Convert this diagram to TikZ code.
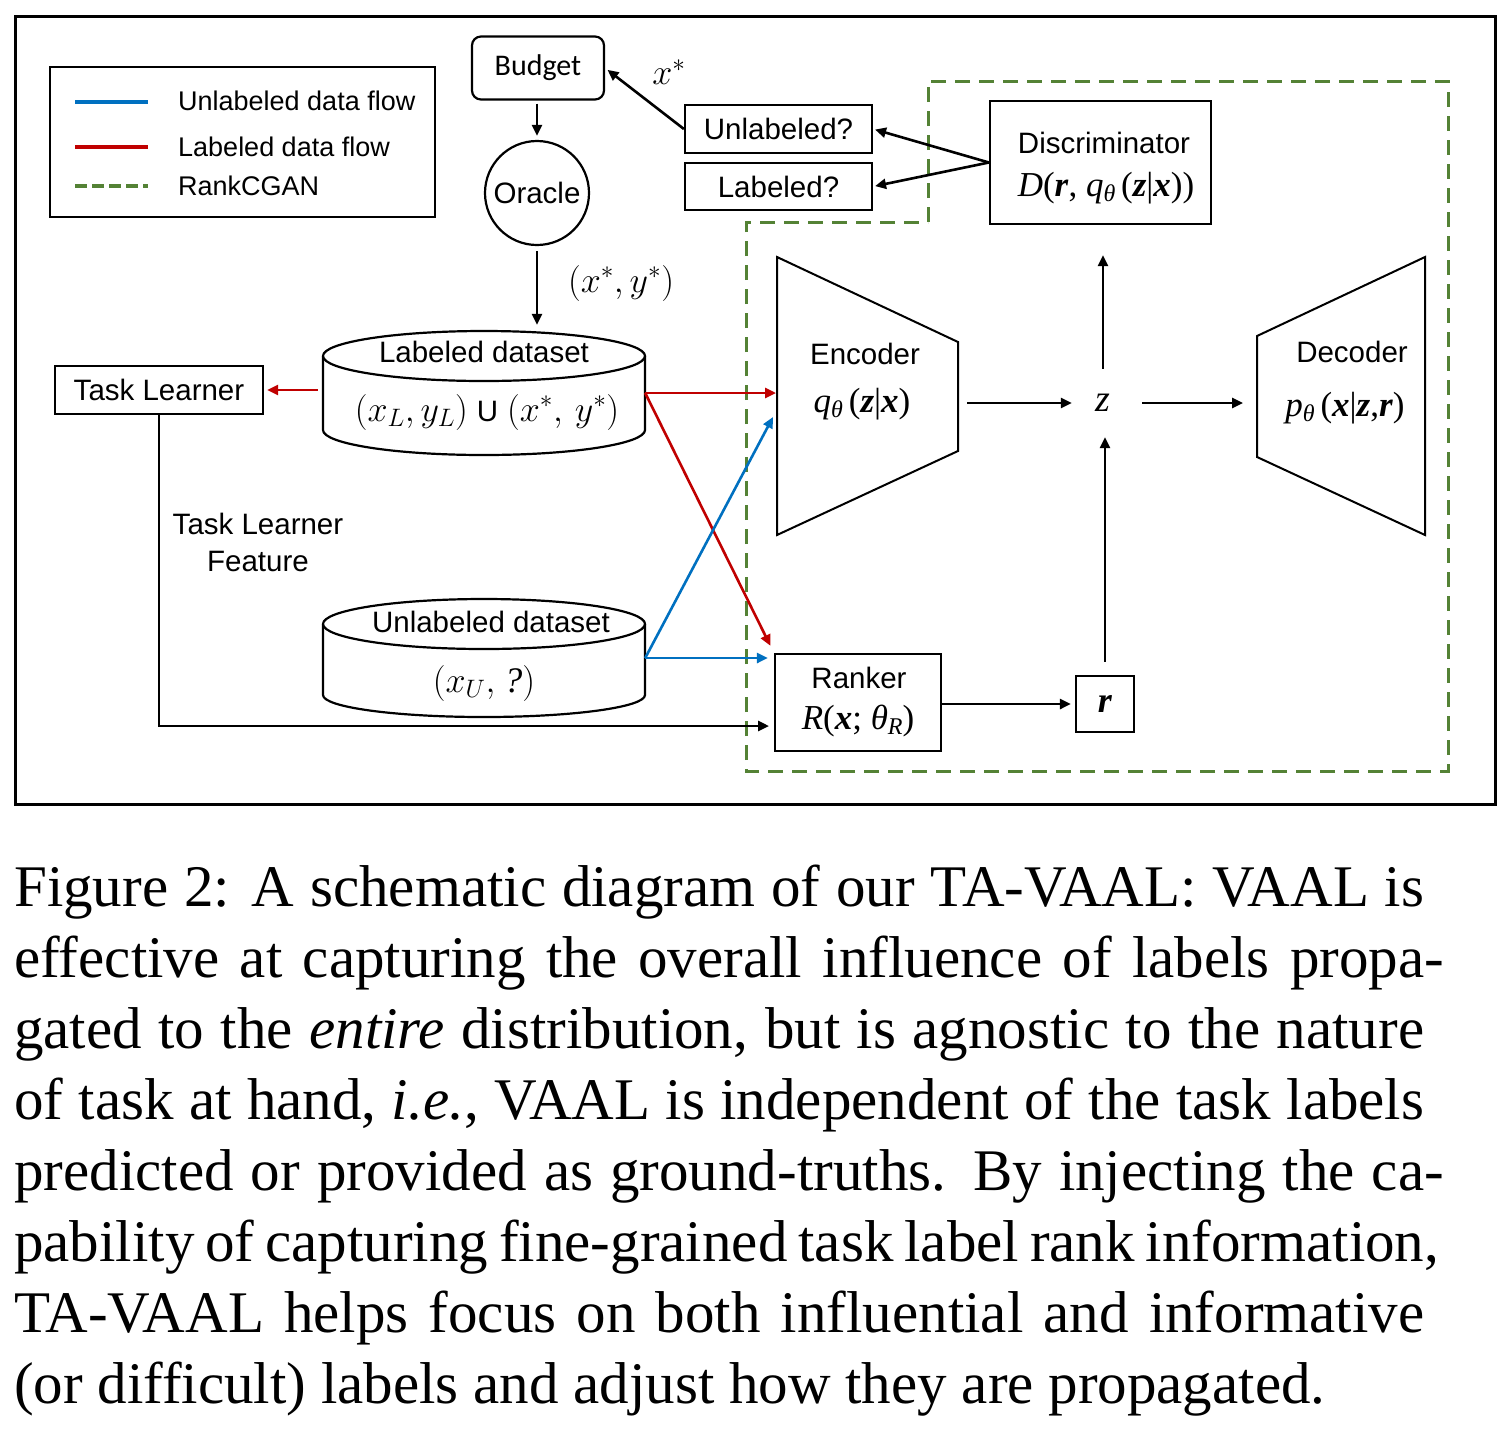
\RequirePackage{fix-cm}
\documentclass[tikz,border=0pt]{standalone}
\usepackage{fontspec}
\setmainfont{Liberation Serif}
\newfontfamily\arialf{Liberation Sans}
\newfontfamily\calibf{Carlito}
\usetikzlibrary{arrows.meta}
\definecolor{flowblue}{RGB}{0,112,192}
\definecolor{flowred}{RGB}{192,0,0}
\definecolor{gangreen}{RGB}{84,130,53}
\newcommand\bi[1]{\textbf{\textit{#1}}}
\newcommand\lsub[1]{\raisebox{-0.32ex}{\fontsize{24}{24}\selectfont\textit{#1}}}
\begin{document}
\begin{tikzpicture}[x=1pt,y=-1pt,
  sans/.style={font=\arialf\fontsize{29.5}{37}\selectfont},
  legtext/.style={font=\arialf\fontsize{27}{32}\selectfont, inner sep=0pt, anchor=west},
  frm/.style={font=\rmfamily\fontsize{35}{40}\selectfont, inner sep=0pt},
  mth/.style={font=\fontsize{36}{40}\selectfont, inner sep=0pt},
  boxn/.style={draw, line width=2.2pt, inner sep=0pt},
  txt/.style={sans, inner sep=0pt},
  arr/.style={line width=2.6pt, -{Triangle[length=11pt,width=10pt]}},
  cyl/.style={line width=2.2pt},
  gdash/.style={draw=gangreen, line width=3pt, dash pattern=on 15pt off 9pt},
]
\useasboundingbox (0,0) rectangle (1509,1441);
\draw[line width=3pt] (15,16) rectangle (1495,804);

% legend
\node[draw, line width=2pt, minimum width=385pt, minimum height=150pt, inner sep=0pt] (legend) at (242.5,142) {};
\draw[flowblue, line width=3.5pt] (75,102) -- (148,102);
\draw[flowred, line width=3.5pt] (75,147) -- (148,147);
\draw[gangreen, line width=3.5pt, dash pattern=on 12pt off 5pt] (75,186) -- (148,186);
\node[legtext] (leg1) at (178,101) {Unlabeled data flow};
\node[legtext] (leg2) at (178,147) {Labeled data flow};
\node[legtext] (leg3) at (178,186) {RankCGAN};

% RankCGAN region
\draw[gdash] (928,222) -- (928,81) -- (1448,81) -- (1448,771) -- (746,771) -- (746,222) -- cycle;

% budget, oracle
\node[boxn, rounded corners=9pt, minimum width=132pt, minimum height=63pt, sans] (budget) at (538,68) {\calibf\fontsize{30}{36}\selectfont Budget};
\node[draw, circle, line width=2.2pt, minimum size=104pt, inner sep=0pt, sans] (oracle) at (537,193) {Oracle};
\node[mth] (xs) at (669,72) {$x^*$};
\node[mth] (xys) at (621,283) {$(x^*, y^*)$};

% discriminator outputs
\node[boxn, minimum width=187pt, minimum height=48pt, sans] (unl) at (778.5,129) {Unlabeled?};
\node[boxn, minimum width=187pt, minimum height=47pt, sans] (lab) at (778.5,186.5) {Labeled?};
\node[boxn, minimum width=221pt, minimum height=123pt] (disc) at (1100.5,162.5) {};
\node[txt] (disct) at (1104,143) {Discriminator};
\node[frm] (discf) at (1106,188) {\textit{D}(\bi{r}, \textit{q}\lsub{θ}\,(\bi{z}|\bi{x}))};

% task learner
\node[boxn, minimum width=208pt, minimum height=48pt, sans] (tl) at (159,390) {Task Learner};
\node[txt, align=center] (tlf) at (258,542) {Task Learner\\Feature};

% datasets
\node[minimum width=322pt, minimum height=124pt, inner sep=0pt] (ld) at (484,393) {};
\draw[cyl] (323,356) -- (323,430) arc[start angle=180, end angle=360, x radius=161pt, y radius=25pt] -- (645,356);
\draw[cyl] (484,356) ellipse[x radius=161pt, y radius=25pt];
\node[txt] (ldt) at (484,352) {Labeled dataset};
\node[mth] (ldf) at (487,412) {$(x_L, y_L)$ {\arialf\fontsize{29.5}{36}\selectfont U} $(x^*,\, y^*)$};

\node[minimum width=322pt, minimum height=118pt, inner sep=0pt] (ud) at (484,658) {};
\draw[cyl] (323,624) -- (323,695) arc[start angle=180, end angle=360, x radius=161pt, y radius=22pt] -- (645,624);
\draw[cyl] (484,624) ellipse[x radius=161pt, y radius=25pt];
\node[txt] (udt) at (491,622) {Unlabeled dataset};
\node[mth] (udf) at (484,683) {$(x_U,$ \textit{?}$)$};

% encoder / decoder
\draw[line width=2pt] (777,257) -- (958,342) -- (958,451) -- (777,535) -- cycle;
\draw[line width=2pt] (1257,336) -- (1425,257) -- (1425,535) -- (1257,457) -- cycle;
\coordinate (encR) at (958,403);
\coordinate (decL) at (1257,403);
\coordinate (encIn1) at (776,393);
\coordinate (encIn2) at (773,417);
\coordinate (rankIn2) at (775,726);
\node[txt] (enct) at (865,354) {Encoder};
\node[frm] (encf) at (862,404) {\textit{q}\lsub{θ}\,(\bi{z}|\bi{x})};
\node[txt] (dect) at (1352,352) {Decoder};
\node[frm] (decf) at (1345,408) {\textit{p}\lsub{θ}\,(\bi{x}|\bi{z},\bi{r})};
\node[frm, font=\rmfamily\fontsize{38}{40}\selectfont, minimum width=62pt, minimum height=68pt] (z) at (1103,403) {\textit{z}};

% ranker and r
\node[boxn, minimum width=166pt, minimum height=97pt] (rank) at (858,702.5) {};
\node[txt] (rankt) at (859,678) {Ranker};
\node[frm] (rankf) at (858,721) {\textit{R}(\bi{x}; \textit{θ}\lsub{R})};
\node[boxn, minimum width=58pt, minimum height=56pt, frm, font=\rmfamily\fontsize{36}{40}\selectfont] (rbox) at (1105,704) {\bi{r}};

% connectors
\draw[arr, shorten <=3pt, shorten >=4pt] (oracle.north |- budget.south) -- (oracle.north);
\draw[arr, shorten <=5pt, shorten >=6pt] (oracle.south) -- (oracle.south |- ld.north);
\draw[arr, shorten >=3pt] (unl.west) -- (budget.east);
\draw[arr, shorten >=2pt] (disc.west) -- (unl.east);
\draw[arr, shorten >=2pt] (disc.west) -- (lab.east);
\draw[arr, flowred, shorten <=5pt, shorten >=3pt] (tl.east -| ld.west) -- (tl.east);
\draw[arr, flowred] (ld.east) -- (encIn1);
\draw[arr, flowred, shorten >=8pt] (ld.east) -- (rank.north west);
\draw[arr, flowblue] (ud.east) -- (encIn2);
\draw[arr, flowblue, shorten >=6pt] (ud.east) -- (ud.east -| rank.west);
\draw[arr, shorten >=6pt] (tl.south) |- (rankIn2);
\draw[arr, shorten <=9pt] (encR) -- (z.west);
\draw[arr, shorten <=8pt, shorten >=14pt] (z.east) -- (decL);
\draw[arr, shorten >=30pt] (z.north) -- (z.north |- disc.south);
\draw[arr, shorten <=13pt] (rbox.north) -- (rbox.north |- z.south);
\draw[arr, shorten >=4pt] (rank.east |- rbox.west) -- (rbox.west);

% caption
\node[anchor=north west, inner sep=0pt, font=\rmfamily\fontsize{59}{70.9}\selectfont] (cap) at (14,865) {\vbox{\baselineskip=70.9pt\lineskiplimit=-100pt
\hbox to 1410pt{Figure 2: A schematic diagram of our TA-VAAL: VAAL is}
\hbox to 1410pt{effective at capturing the overall influence of labels propa\rlap{-}}
\hbox to 1410pt{gated to the \textit{entire} distribution, but is agnostic to the nature}
\hbox to 1410pt{of task at hand, \textit{i.e.}, VAAL is independent of the task labels}
\hbox to 1410pt{predicted or provided as ground-truths. By injecting the ca\rlap{-}}
\hbox to 1410pt{pability of capturing fine-grained task label rank information\rlap{,}}
\hbox to 1410pt{TA-VAAL helps focus on both influential and informative}
\hbox{(or difficult) labels and adjust how they are propagated.}}};
\end{tikzpicture}
\end{document}
